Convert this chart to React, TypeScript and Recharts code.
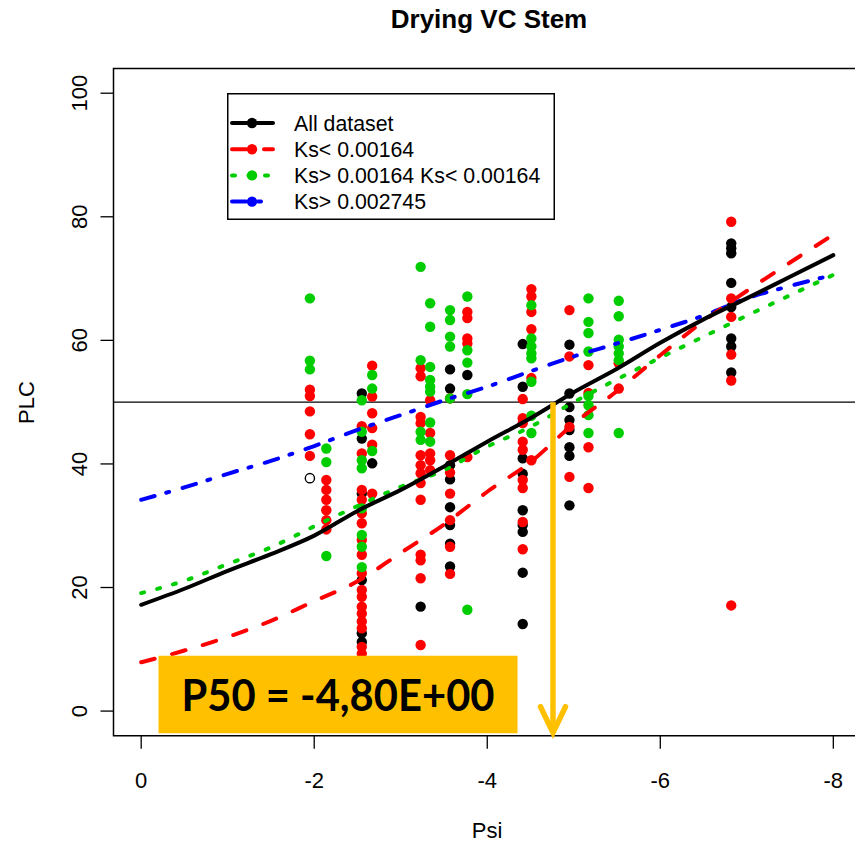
import React from "react";
import {
  ComposedChart,
  XAxis,
  YAxis,
  Scatter,
  Line,
  ReferenceLine,
  ReferenceArea,
  Legend,
} from "recharts";

// axis ticks
const psiTicks = [0, -2, -4, -6, -8];
const plcTicks = [0, 20, 40, 60, 80, 100];

// smoothed curves, sampled every 0.5 MPa
const psiGrid = [0, -0.5, -1, -1.5, -2, -2.5, -3, -3.5, -4, -4.5, -5, -5.5, -6, -6.5, -7, -7.5, -8];
const allDatasetCurve = [17.2, 19.8, 22.7, 25.4, 28.4, 32.4, 35.8, 39.6, 43.6, 47.4, 51.6, 55.4, 59.6, 63.4, 66.8, 70.3, 73.8];
const lowKsCurve = [7.9, 9.8, 12.0, 14.6, 17.8, 21.0, 25.6, 30.2, 35.5, 40.3, 46.5, 51.8, 57.6, 63.1, 68.0, 72.6, 77.1];
const midKsCurve = [19.1, 21.1, 23.8, 26.5, 29.9, 33.2, 36.3, 39.0, 42.8, 46.0, 50.0, 53.7, 57.2, 60.6, 64.0, 67.3, 70.6];
const highKsCurve = [34.2, 36.2, 38.4, 40.5, 42.9, 45.5, 47.9, 50.3, 52.5, 55.0, 57.4, 59.5, 61.7, 64.0, 66.8, 68.8, 70.6];

// measured points, grouped by Psi column: [psi, [PLC...]]
const blackPoints: [number, number[]][] = [
  [-2.55, [51.4, 44.1, 35.2, 21.2, 12.6, 11.2]],
  [-2.67, [40.1]],
  [-3.23, [16.9]],
  [-3.57, [55.3, 52.2, 39.8, 37.5, 33.0, 30.1, 27.1, 23.4]],
  [-3.77, [54.4]],
  [-4.41, [59.4, 52.5, 40.9, 38.4, 32.5, 30.1, 29.0, 22.4, 14.1]],
  [-4.95, [59.3, 51.4, 49.2, 47.1, 45.5, 42.7, 41.3, 33.3]],
  [-6.82, [75.7, 74.9, 74.1, 69.3, 65.4, 60.3, 59.0, 54.8]],
];
const redPoints: [number, number[]][] = [
  [-1.95, [52.0, 51.0, 48.5, 44.8, 41.3]],
  [-2.14, [37.4, 35.8, 34.2, 32.5, 30.9, 29.4]],
  [-2.55, [46.1, 41.7, 35.8, 34.2, 32.0, 30.4, 27.7, 25.3, 22.3, 19.6, 18.5, 16.9, 15.8, 14.5, 13.4, 10.4, 9.3]],
  [-2.67, [55.9, 50.9, 48.2, 45.8, 43.1, 35.2]],
  [-3.23, [55.5, 54.2, 47.6, 46.6, 41.4, 39.8, 38.5, 36.9, 34.2, 25.3, 24.4, 21.5, 10.7]],
  [-3.34, [50.3, 45.0, 41.7, 40.6, 39.0]],
  [-3.57, [50.6, 41.4, 38.6, 35.2, 30.9, 26.6, 22.2]],
  [-3.77, [64.6, 63.6, 60.3, 59.5, 41.1]],
  [-4.41, [50.5, 47.4, 46.6, 43.6, 42.3, 37.4, 36.1, 30.6, 26.2]],
  [-4.51, [68.3, 67.1, 64.6, 61.8, 53.9, 40.6]],
  [-4.95, [64.9, 57.4, 46.0, 37.9]],
  [-5.17, [56.0, 51.5, 42.7, 36.1]],
  [-5.52, [56.3, 52.2]],
  [-6.82, [79.2, 66.8, 63.8, 57.7, 53.5, 17.1]],
];
const greenPoints: [number, number[]][] = [
  [-1.95, [66.8, 56.7, 55.3]],
  [-2.14, [42.5, 40.3, 25.1]],
  [-2.55, [50.3, 45.2, 40.6, 39.3, 32.8, 28.5, 26.6, 23.3]],
  [-2.67, [54.4, 52.2, 42.1]],
  [-3.23, [71.9, 56.8, 45.2, 43.9]],
  [-3.34, [66.0, 62.2, 55.7, 53.6, 52.5, 51.7, 46.7, 43.6]],
  [-3.57, [64.9, 63.3, 60.6, 59.0, 50.6]],
  [-3.77, [67.1, 58.4, 56.4, 51.3, 16.4]],
  [-4.51, [65.7, 60.3, 59.0, 57.9, 57.1, 53.3, 47.8, 45.0]],
  [-5.17, [66.8, 63.0, 61.2, 58.2, 51.0, 49.5, 47.9, 45.0]],
  [-5.52, [66.4, 63.9, 60.1, 59.0, 57.9, 56.8, 45.0]],
];
const openPoints: [number, number[]][] = [[-1.95, [37.7]]];

// P50 annotation
const p50Label = "P50 = -4,80E+00";
const p50ArrowPsi = -4.76;

const FONT = '"Liberation Sans", Arial, sans-serif';
const RED = "#FF0000";
const GREEN = "#00CD00";
const BLUE = "#0000FF";
const ORANGE = "#FFC000";

const toRows = (cols: [number, number[]][]) =>
  cols.flatMap(([psi, vals]) => vals.map((plc) => ({ psi, plc })));
const toCurve = (vals: number[]) => psiGrid.map((psi, i) => ({ psi, plc: vals[i] }));

const series = [
  { name: "All dataset", color: "#000000", dash: undefined as string | undefined, data: toCurve(allDatasetCurve) },
  { name: "Ks< 0.00164", color: RED, dash: "14 18", data: toCurve(lowKsCurve) },
  { name: "Ks> 0.00164 Ks< 0.00164", color: GREEN, dash: "3 13.5", data: toCurve(midKsCurve) },
  { name: "Ks> 0.002745", color: BLUE, dash: "14 12 3 14", data: toCurve(highKsCurve) },
];

const dot = (color: string) => (p: any) => (
  <circle cx={p.cx} cy={p.cy} r={5.2} fill={color} />
);
const openDot = (p: any) => (
  <circle cx={p.cx} cy={p.cy} r={4.6} fill="none" stroke="#000" strokeWidth={1.4} />
);

const XTick = (props: any) => {
  const { x, y, payload } = props;
  return (
    <text x={x} y={y + 39.6} textAnchor="middle" fontFamily={FONT} fontSize={22} fill="#000">
      {payload.value}
    </text>
  );
};

const YTick = (props: any) => {
  const { x, y, payload } = props;
  const bx = x - 13.6;
  return (
    <text
      x={bx}
      y={y}
      transform={`rotate(-90, ${bx}, ${y})`}
      textAnchor="middle"
      fontFamily={FONT}
      fontSize={22}
      fill="#000"
    >
      {payload.value}
    </text>
  );
};

const LegendBox = () => (
  <svg width={330} height={130} style={{ display: "block" }}>
    <rect x={0.75} y={0.75} width={326.5} height={125.5} fill="#fff" stroke="#000" strokeWidth={1.5} />
    {series.map((s, i) => {
      const cy = 30 + i * 26.2;
      return (
        <g key={s.name}>
          <line x1={5} x2={46} y1={cy} y2={cy} stroke={s.color} strokeWidth={4} strokeDasharray={s.dash} strokeLinecap="round" />
          <circle cx={25} cy={cy} r={5.2} fill={s.color} />
          <text x={67} y={cy + 7.6} fontFamily={FONT} fontSize={21.3} fill="#000">
            {s.name}
          </text>
        </g>
      );
    })}
  </svg>
);

const P50Text = (props: any) => {
  const vb = props.viewBox;
  if (!vb) return null;
  const cx = vb.x + vb.width / 2;
  const base = vb.y + vb.height / 2 + 16;
  return (
    <text
      x={cx}
      y={base}
      textAnchor="middle"
      fontFamily="Lato, 'Open Sans', sans-serif"
      fontWeight={700}
      fontSize={44}
      fill="#000"
      textLength={313}
      lengthAdjust="spacingAndGlyphs"
    >
      {p50Label}
    </text>
  );
};

const Arrow = (p: any) => {
  const { x1, y1, x2, y2 } = p;
  return (
    <g stroke={ORANGE} strokeWidth={5.5} fill="none">
      <line x1={x1} y1={y1} x2={x2} y2={y2} />
      <polyline points={`${x2 - 12.5},${y2 - 26} ${x2},${y2} ${x2 + 12.5},${y2 - 26}`} strokeLinecap="round" strokeLinejoin="miter" />
    </g>
  );
};

export default function App() {
  return (
    <div
      style={{
        position: "absolute",
        left: 0,
        top: 0,
        width: 855,
        height: 844,
        overflow: "hidden",
        background: "#fff",
      }}
    >
      <ComposedChart width={880} height={844} margin={{ top: 68.5, right: 19, bottom: 48.2, left: 73.5 }}>
        <XAxis
          type="number"
          dataKey="psi"
          domain={[-8.32, 0.32]}
          reversed
          allowDataOverflow
          ticks={psiTicks}
          interval={0}
          axisLine={false}
          tickLine={{ stroke: "#000", strokeWidth: 1.3 }}
          tickSize={13}
          tickMargin={0}
          height={60}
          tick={<XTick />}
        />
        <YAxis
          type="number"
          dataKey="plc"
          domain={[-4, 104]}
          allowDataOverflow
          ticks={plcTicks}
          interval={0}
          axisLine={false}
          tickLine={{ stroke: "#000", strokeWidth: 1.3 }}
          tickSize={13}
          tickMargin={0}
          width={40}
          tick={<YTick />}
        />
        <ReferenceLine y={50} stroke="#000" strokeWidth={1.3} />
        <Scatter data={toRows(blackPoints)} isAnimationActive={false} shape={dot("#000")} />
        <Scatter data={toRows(redPoints)} isAnimationActive={false} shape={dot(RED)} />
        <Scatter data={toRows(greenPoints)} isAnimationActive={false} shape={dot(GREEN)} />
        <Scatter data={toRows(openPoints)} isAnimationActive={false} shape={openDot} />
        {series
          .slice()
          .reverse()
          .map((s) => (
            <Line
              key={s.name}
              data={s.data}
              dataKey="plc"
              type="monotone"
              stroke={s.color}
              strokeWidth={4}
              strokeDasharray={s.dash}
              strokeLinecap="round"
              dot={false}
              activeDot={false}
              isAnimationActive={false}
              zIndex={700}
            />
          ))}
        <ReferenceArea
          x1={-8.32}
          x2={0.32}
          y1={-4}
          y2={104}
          fill="none"
          fillOpacity={0}
          stroke="#000"
          strokeWidth={1.5}
          zIndex={2400}
        />
        <ReferenceArea
          x1={-0.2}
          x2={-4.35}
          y1={-3.6}
          y2={8.95}
          fill={ORANGE}
          fillOpacity={1}
          stroke="none"
          zIndex={2500}
          label={(props: any) => <P50Text {...props} />}
        />
        <ReferenceLine
          segment={[
            { x: p50ArrowPsi, y: 50 },
            { x: p50ArrowPsi, y: -3.5 },
          ]}
          shape={(p: any) => <Arrow {...p} />}
          zIndex={2600}
        />
        <Legend
          layout="vertical"
          align="center"
          verticalAlign="middle"
          wrapperStyle={{ left: 227, top: 93, width: 330, height: 130 }}
          content={() => <LegendBox />}
        />
        <text x={489} y={28} textAnchor="middle" fontFamily={FONT} fontWeight={700} fontSize={26} fill="#000">
          Drying VC Stem
        </text>
        <text x={33.9} y={402.5} transform="rotate(-90, 33.9, 402.5)" textAnchor="middle" fontFamily={FONT} fontSize={22} fill="#000">
          PLC
        </text>
        <text x={487} y={838} textAnchor="middle" fontFamily={FONT} fontSize={22} fill="#000">
          Psi
        </text>
      </ComposedChart>
    </div>
  );
}
